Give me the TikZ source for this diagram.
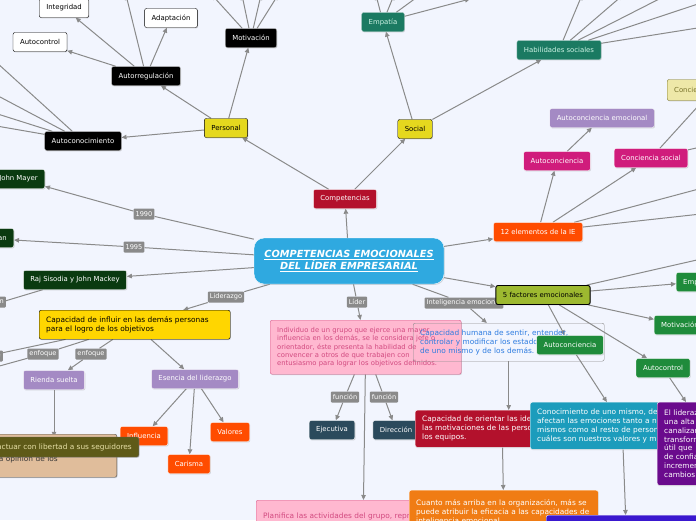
\documentclass[tikz,border=0pt]{standalone}
\usepackage{fontspec}
\setmainfont{DejaVu Sans}
\usetikzlibrary{arrows.meta,shadows}
\definecolor{bgc}{HTML}{F2F5FE}
\definecolor{lineg}{HTML}{8A8A8A}
\definecolor{cenc}{HTML}{2FA9E0}
\definecolor{ylwc}{HTML}{E5D81E}
\definecolor{goldc}{HTML}{FFD600}
\definecolor{tealc}{HTML}{1B7A62}
\definecolor{tealt}{HTML}{CDF3E5}
\definecolor{purc}{HTML}{A48AC4}
\definecolor{magc}{HTML}{D01C7C}
\definecolor{crimc}{HTML}{B3112C}
\definecolor{orc}{HTML}{FF4C00}
\definecolor{dgrc}{HTML}{0A3A10}
\definecolor{grnc}{HTML}{1F8B3B}
\definecolor{sltc}{HTML}{2B4A5C}
\definecolor{olivec}{HTML}{9DB930}
\definecolor{pinkc}{HTML}{FFB8D0}
\definecolor{pinkd}{HTML}{D8608E}
\definecolor{pinkt}{HTML}{D24A80}
\definecolor{bluet}{HTML}{2E7CE0}
\definecolor{tealb}{HTML}{1C9CBC}
\definecolor{violc}{HTML}{6A0B8D}
\definecolor{orngc}{HTML}{F07C14}
\definecolor{tanc}{HTML}{E0BD9B}
\definecolor{olvbar}{HTML}{5E5A18}
\definecolor{olvtxt}{HTML}{E6DFA6}
\definecolor{paley}{HTML}{EEE8A8}
\definecolor{paleyd}{HTML}{77712A}
\definecolor{bblc}{HTML}{3A18CF}
\pgfdeclarelayer{bg}
\pgfdeclarelayer{edges}
\pgfsetlayers{bg,edges,main}

\begin{document}
\begin{tikzpicture}[x=1pt,y=-1pt,
    arrow/.style={draw=lineg,line width=1pt,-{Triangle[length=5pt,width=4.5pt]}},
    plain/.style={rounded corners=2pt,inner xsep=7pt,inner ysep=2pt,minimum height=19pt,
                font=\fontsize{6.9}{8.8}\selectfont},
    box/.style={plain,drop shadow={opacity=.3,shadow xshift=.7pt,shadow yshift=-.9pt}},
    para/.style={box,align=left,inner ysep=5pt,font=\fontsize{7.4}{8.9}\selectfont},
    lbl/.style={fill=lineg,text=white,rounded corners=1pt,inner sep=2pt,minimum height=11pt,
                font=\fontsize{6.6}{7}\selectfont},
    blk/.style={box,fill=black,draw=black!25,text=white},
    wht/.style={box,fill=white,draw=black,text=black},
    ylw/.style={box,fill=ylwc,draw=black,text=black},
    tl/.style={box,fill=tealc,draw=tealc!50!white,text=tealt},
    pur/.style={box,fill=purc,draw=white,text=white},
    mag/.style={box,fill=magc,draw=white,text=white},
    crim/.style={box,fill=crimc,draw=white,text=white},
    org/.style={box,fill=orc,draw=white,text=white},
    dgr/.style={box,fill=dgrc,draw=white,text=white},
    grn/.style={box,fill=grnc,draw=white,text=white},
    slt/.style={box,fill=sltc,draw=white,text=white}]

\useasboundingbox (0,0) rectangle (696,520);
\begin{pgfonlayer}{bg}
\fill[bgc] (0,0) rectangle (696,520);
\end{pgfonlayer}
\clip (0,0) rectangle (696,520);

\node[box,fill=cenc,draw=white,text=white,rounded corners=10pt,minimum width=190pt,minimum height=46pt,
      align=center,font=\fontsize{9.8}{12.5}\selectfont\bfseries\itshape] (central) at (349,261)
      {\underline{COMPETENCIAS EMOCIONALES}\\\underline{DEL LÍDER EMPRESARIAL}};

\node[crim] (compet) at (345,199) {Competencias};
\node[ylw] (personal) at (226,128) {Personal};
\node[ylw] (social) at (415,129) {Social};

\node[blk] (motiv) at (251,38) {Motivación};
\node[blk] (autoreg) at (146,76) {Autorregulación};
\node[blk] (autocon) at (83,141) {Autoconocimiento};
\node[wht] (integ) at (64,8) {Integridad};
\node[wht] (adapt) at (171,18) {Adaptación};
\node[wht] (actrlw) at (40,42) {Autocontrol};

\node[tl] (empatia) at (383,22) {Empatía};
\node[tl] (habsoc) at (559,50) {Habilidades sociales};
\node[box,fill=paley,draw=paleyd,text=paleyd,anchor=west,minimum height=21pt] (conci) at (667,90) {Conciencia};

\node[org] (doce) at (538,232) {12 elementos de la IE};
\node[pur] (aemoc) at (602,118) {Autoconciencia emocional};
\node[mag] (aconc) at (557,161) {Autoconciencia};
\node[mag] (csoc) at (651,158) {Conciencia social};

\node[lbl] (l1990) at (144,214) {1990};
\node[lbl] (l1995) at (134,247) {1995};
\node[lbl] (lliderazgo) at (226,297) {Liderazgo};
\node[lbl] (llider) at (357,302) {Líder};
\node[lbl] (lie) at (464,303) {Inteligencia emocional};
\node[lbl,anchor=east] (ln) at (6,302) {n};
\node[lbl,anchor=east] (lenf0) at (3,356) {enfoque};
\node[lbl] (lenf1) at (43,354) {enfoque};
\node[lbl] (lenf2) at (91,354) {enfoque};
\node[lbl] (lfun1) at (345,397) {función};
\node[lbl] (lfun2) at (384,397) {función};

\node[dgr,anchor=east] (mayer) at (45,179) {John Mayer};
\node[dgr,anchor=east] (goleman) at (14,238) {Daniel Goleman};
\node[dgr] (raj) at (75,280) {Raj Sisodia y John Mackey};

\node[box,fill=olivec,draw=black,line width=.9pt,text=black] (cinco) at (543,295) {5 factores emocionales};
\node[grn,anchor=west] (empf) at (676,282) {Empatía};
\node[grn,anchor=west] (motf) at (654,325) {Motivación};
\node[grn] (actrlf) at (663,368) {Autocontrol};

\node[para,fill=goldc,draw=black,text=black,anchor=north west,text width=177pt,minimum height=29pt] (capinf) at (39,310)
  {Capacidad de influir en las demás personas\\para el logro de los objetivos};
\node[pur] (rienda) at (54,380) {Rienda suelta};
\node[pur] (esencia) at (195,379) {Esencia del liderazgo};
\node[org] (influ) at (144,436) {Influencia};
\node[org] (valores) at (230,432) {Valores};
\node[org] (carisma) at (189,464) {Carisma};

\node[para,fill=tanc,draw=black!70,text=black!80,anchor=north east,text width=113pt,minimum height=43pt] (tan) at (117,434)
  {\mbox{}\\[4pt]la opinión de los};
\node[box,fill=olvbar,draw=black!60,text=olvtxt,anchor=east,minimum height=20pt,font=\fontsize{7.4}{8.8}\selectfont] (olvb) at (139,447)
  {actuar con libertad a sus seguidores};

\node[para,fill=pinkc,draw=pinkd,text=pinkt,anchor=north west,text width=177pt,minimum height=54pt,
      font=\fontsize{6.8}{8.4}\selectfont] (indiv) at (270,320)
  {Individuo de un grupo que ejerce una mayor\\influencia en los demás, se le considera jefe o\\orientador, éste presenta la habilidad de\\convencer a otros de que trabajen con\\entusiasmo para lograr los objetivos definidos.};
\node[plain,align=left,inner ysep=5pt,font=\fontsize{7.4}{9}\selectfont,draw=black!45,text=bluet,anchor=north west,text width=177pt,minimum height=38pt] (caphum) at (413,323)
  {Capacidad humana de sentir, entender,\\controlar y modificar los estados anímicos\\de uno mismo y de los demás.};
\node[grn] (aconc2) at (570,345) {Autoconciencia};

\node[slt] (ejec) at (332,430) {Ejecutiva};
\node[slt] (direc) at (396,430) {Dirección};

\node[para,fill=crimc,draw=white,text=white,anchor=north west,text width=160pt,minimum height=37pt] (caport) at (415,410)
  {Capacidad de orientar las ideas y\\las motivaciones de las personas y\\los equipos.};
\node[para,fill=tealb,draw=white,text=white,anchor=north west,text width=170pt,minimum height=47pt] (conoc) at (530,402)
  {Conocimiento de uno mismo, de cómo\\afectan las emociones tanto a nosotros\\mismos como al resto de personas y\\cuáles son nuestros valores y metas.};
\node[para,fill=violc,draw=white,text=white,anchor=north west,text width=100pt,minimum height=83pt] (elid) at (657,402)
  {El liderazgo\\una alta\\canalizar\\transformar\\útil que\\de confianza\\incrementar\\cambios};

\node[para,fill=pinkc,draw=pinkd,text=pinkt,anchor=north west,text width=200pt,minimum height=40pt] (planif) at (256,500)
  {Planifica las actividades del grupo, representa a\\éste de cara al exterior, media en los conflictos};
\node[para,fill=orngc,draw=white,text=white,anchor=north west,text width=175pt,minimum height=45pt] (cuanto) at (409,490)
  {Cuanto más arriba en la organización, más se\\puede atribuir la eficacia a las capacidades de\\inteligencia emocional.};
\node[box,fill=bblc,draw=white,anchor=north west,minimum width=160pt,minimum height=30pt] (bbl) at (546,515) {};

\begin{pgfonlayer}{edges}
\clip (0,0) rectangle (696,520);
\coordinate (ac1) at (-15,52);
\coordinate (ac2) at (-15,89);
\coordinate (ac3) at (-15,110);
\coordinate (ac4) at (-15,124);
\coordinate (ar1) at (126,-5);
\coordinate (mo1) at (212,-5);
\coordinate (mo2) at (242,-5);
\coordinate (mo3) at (261,-5);
\coordinate (mo4) at (278,-5);
\coordinate (em1) at (376,-5);
\coordinate (em2) at (394,-5);
\coordinate (em3) at (420,-5);
\coordinate (em4) at (470,-1);
\coordinate (hs1) at (582,-5);
\coordinate (hs2) at (623,-5);
\coordinate (hs3) at (667,-5);
\coordinate (hs4) at (710,0);
\coordinate (hs5) at (710,26);
\coordinate (de1) at (710,186);
\coordinate (de2) at (710,213);
\coordinate (cs1) at (710,93);
\coordinate (cs2) at (710,145);
\coordinate (fa1) at (710,257);
\coordinate (nf) at (-15,306);
\coordinate (ef0) at (-20,362);
\coordinate (ef1) at (-15,370);

\draw[arrow] (central) -- (compet);
\draw[arrow] (compet) -- (personal);
\draw[arrow] (compet) -- (social);
\draw[arrow] (personal) -- (autoreg);
\draw[arrow] (personal) -- (autocon);
\draw[arrow] (personal) -- (motiv);
\draw[arrow] (autoreg) -- (actrlw);
\draw[arrow] (autoreg) -- (integ);
\draw[arrow] (autoreg) -- (adapt);
\draw[arrow] (autoreg) -- (ar1);
\foreach \c in {ac1,ac2,ac3,ac4} \draw[arrow] (autocon) -- (\c);
\foreach \c in {mo1,mo2,mo3,mo4} \draw[arrow] (motiv) -- (\c);
\draw[arrow] (social) -- (empatia);
\draw[arrow] (social) -- (habsoc);
\foreach \c in {em1,em2,em3,em4} \draw[arrow] (empatia) -- (\c);
\foreach \c in {hs1,hs2,hs3,hs4,hs5} \draw[arrow] (habsoc) -- (\c);

\draw[arrow] (central) -- (l1990) -- (mayer);
\draw[arrow] (central) -- (l1995) -- (goleman);
\draw[arrow] (central) -- (raj);
\draw[arrow] (raj) -- (ln) -- (nf);
\draw[arrow] (central) -- (lliderazgo) -- (capinf);
\draw[arrow] (central) -- (llider) -- (indiv);
\draw[arrow] (central) -- (lie) -- (caphum);
\draw[arrow] (central) -- (doce);
\draw[arrow] (central) -- (cinco);

\draw[arrow] (doce) -- (aconc);
\draw[arrow] (doce) -- (csoc);
\draw[arrow] (doce) -- (de1);
\draw[arrow] (doce) -- (de2);
\draw[arrow] (aconc) -- (aemoc);
\draw[arrow] (csoc) -- (cs1);
\draw[arrow] (csoc) -- (cs2);

\draw[arrow] (cinco) -- (empf);
\draw[arrow] (cinco) -- (motf);
\draw[arrow] (cinco) -- (actrlf);
\draw[arrow] (cinco) -- (aconc2);
\draw[arrow] (cinco) -- (fa1);
\draw[arrow] (actrlf) -- (elid);
\draw[arrow] (aconc2) -- (conoc);
\draw[arrow] (conoc) -- (bbl);
\draw[arrow] (caphum.south) -- (caphum.south |- caport.north);
\draw[arrow] (caport) -- (cuanto);

\draw[arrow] (indiv) -- (lfun1) -- (ejec);
\draw[arrow] (indiv) -- (lfun2) -- (direc);
\draw[arrow] (indiv) -- (planif);

\draw[arrow] (capinf) -- (esencia);
\draw[arrow] (capinf) -- (lenf2) -- (rienda);
\draw[arrow] (capinf) -- (lenf1) -- (ef1);
\draw[arrow] (capinf) -- (lenf0) -- (ef0);
\draw[arrow] (rienda) -- (rienda |- olvb.north);
\draw[arrow] (esencia) -- (influ);
\draw[arrow] (esencia) -- (carisma);
\draw[arrow] (esencia) -- (valores);
\end{pgfonlayer}
\end{tikzpicture}
\end{document}
